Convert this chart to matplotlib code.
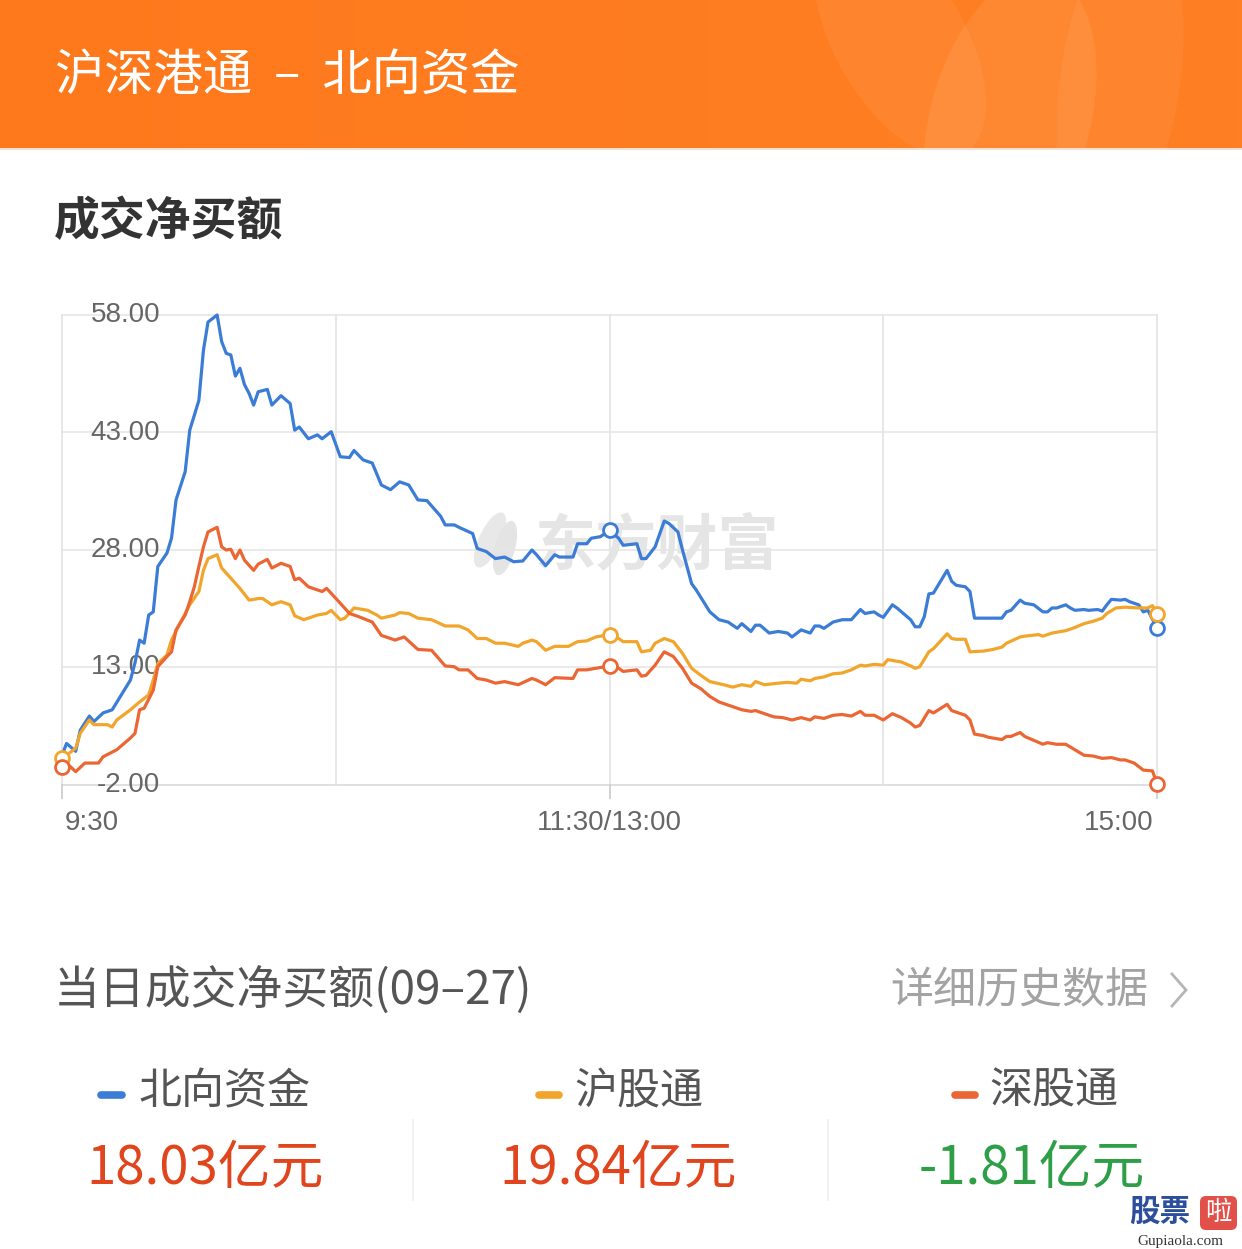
import matplotlib
matplotlib.use("Agg")
import matplotlib.pyplot as plt
import matplotlib.transforms as mtransforms
from matplotlib.patches import Rectangle, Ellipse, FancyBboxPatch
import numpy as np

CJK = ['Noto Sans CJK SC', 'DejaVu Sans']
NUM = ['Liberation Sans', 'DejaVu Sans']
plt.rcParams['font.family'] = CJK

# ---------------- data (minutes after 9:30, lunch break removed) ----------------
north_t = [0, 1, 3, 4, 6, 7, 9, 11, 13, 15, 16, 17, 18, 19, 20, 21, 23, 24, 25, 27, 28, 30, 31, 32, 34,
           35, 36, 37, 38, 39, 40, 41, 42, 43, 45, 46, 48, 50, 51, 52, 54, 56, 57, 59, 61, 63, 64, 66, 68,
           70, 72, 74, 76, 78, 80, 83, 84, 86, 87, 90, 91, 93, 95, 97, 99, 101, 103, 104, 106, 108, 109,
           112, 113, 115, 116, 118, 120, 122, 123, 126, 127, 128, 130, 132, 133, 135, 136, 138, 139, 142,
           144, 146, 148, 149, 151, 152, 153, 155, 157, 159, 160, 162, 164, 165, 166, 167, 169, 171, 173,
           175, 176, 178, 179, 180, 182, 183, 184, 186, 187, 188, 189, 190, 191, 194, 195, 196, 198, 199,
           200, 201, 203, 206, 207, 208, 210, 211, 213, 215, 216, 217, 218, 220, 221, 222, 224, 225, 227,
           228, 229, 230, 232, 233, 234, 236, 237, 238, 240]
north_v = [1.8, 3.3, 2.3, 5.0, 6.8, 6.1, 7.2, 7.6, 9.5, 11.4, 13.6, 16.5, 16.1, 19.7, 20.1, 25.9, 27.6,
           29.5, 34.4, 38.0, 43.3, 47.1, 53.5, 57.1, 58.0, 54.6, 53.1, 52.9, 50.2, 51.2, 49.1, 48.0, 46.5,
           48.2, 48.5, 46.5, 47.7, 46.7, 43.3, 43.7, 42.2, 42.7, 42.2, 43.1, 39.9, 39.8, 40.7, 39.5, 39.1,
           36.3, 35.7, 36.7, 36.3, 34.4, 34.3, 32.3, 31.2, 31.2, 30.9, 30.1, 28.2, 27.8, 26.9, 27.1, 26.5,
           26.6, 28.0, 27.4, 26.0, 27.4, 27.1, 27.1, 28.8, 28.8, 29.5, 29.7, 30.5, 29.5, 28.6, 28.8, 26.9,
           26.9, 28.4, 31.7, 31.4, 30.3, 28.0, 23.7, 22.9, 20.1, 19.1, 18.8, 18.0, 18.6, 17.6, 18.4, 18.4,
           17.4, 17.6, 17.4, 16.9, 17.8, 17.4, 18.3, 18.3, 18.0, 18.8, 19.1, 19.1, 20.4, 19.9, 20.1, 19.7,
           19.4, 21.0, 20.6, 20.1, 19.1, 18.2, 18.2, 19.5, 22.4, 22.5, 25.4, 24.0, 23.5, 23.3, 22.7, 19.3,
           19.3, 19.3, 19.3, 20.1, 20.3, 21.6, 21.2, 21.0, 20.1, 20.1, 20.6, 20.6, 21.0, 20.6, 20.3, 20.4,
           20.3, 20.4, 20.2, 21.0, 21.7, 21.6, 21.7, 21.4, 21.0, 20.1, 20.3, 18.03]

sh_t = [0, 1, 3, 4, 6, 7, 10, 11, 12, 15, 17, 19, 20, 21, 23, 24, 26, 28, 30, 31, 32, 34, 35, 37, 39,
        41, 43, 44, 46, 48, 50, 51, 53, 56, 58, 59, 61, 62, 64, 65, 67, 69, 70, 73, 74, 76, 78, 81, 84,
        87, 89, 91, 93, 95, 97, 100, 101, 103, 104, 106, 108, 111, 113, 115, 117, 120, 122, 123, 126,
        127, 129, 130, 132, 134, 136, 138, 140, 142, 145, 147, 149, 151, 152, 154, 157, 159, 161, 162,
        164, 165, 167, 169, 171, 173, 175, 176, 178, 180, 181, 184, 186, 187, 188, 190, 191, 194, 195,
        196, 198, 199, 202, 204, 206, 207, 210, 211, 214, 215, 217, 220, 222, 224, 226, 228, 229, 231,
        233, 236, 238, 239, 240]
sh_v = [1.4, 1.8, 2.7, 4.6, 6.3, 5.7, 5.7, 5.4, 6.3, 7.6, 8.6, 9.5, 11.4, 13.5, 14.6, 16.5, 18.8, 21.0,
        22.7, 25.4, 26.9, 27.4, 25.7, 24.4, 23.1, 21.6, 21.8, 21.8, 21.0, 21.4, 21.0, 19.6, 19.1, 19.7,
        19.9, 20.3, 19.1, 19.3, 20.6, 20.5, 20.3, 19.7, 19.3, 19.7, 20.0, 19.9, 19.3, 19.1, 18.3, 18.3,
        17.8, 16.7, 16.7, 16.1, 16.1, 15.7, 16.1, 16.5, 16.3, 15.2, 15.7, 15.7, 16.3, 16.4, 16.9, 17.2,
        16.7, 16.3, 16.3, 15.0, 15.2, 16.1, 16.7, 16.3, 14.8, 12.9, 12.0, 11.2, 10.8, 10.5, 10.8, 10.6,
        11.2, 10.8, 11.0, 11.1, 11.0, 11.5, 11.3, 11.6, 11.8, 12.2, 12.3, 12.7, 13.3, 13.2, 13.4, 13.3,
        14.0, 13.7, 13.2, 12.9, 13.1, 15.0, 15.4, 17.3, 16.7, 16.6, 16.6, 15.0, 15.1, 15.3, 15.6, 16.1,
        16.9, 17.0, 17.2, 17.0, 17.4, 17.7, 18.1, 18.6, 18.9, 19.3, 19.9, 20.6, 20.7, 20.6, 20.6, 20.9,
        19.84]

sz_t = [0, 1, 3, 5, 8, 9, 12, 15, 16, 17, 18, 20, 21, 23, 24, 25, 27, 28, 29, 30, 31, 32, 34, 35, 36,
        37, 38, 39, 40, 42, 43, 45, 46, 48, 50, 51, 52, 54, 57, 58, 61, 63, 65, 68, 70, 73, 75, 78, 81,
        84, 86, 87, 89, 91, 93, 95, 97, 100, 103, 104, 106, 108, 112, 113, 115, 117, 120, 122, 123, 126,
        127, 128, 130, 132, 134, 136, 138, 140, 142, 144, 146, 149, 151, 152, 154, 156, 158, 160, 162,
        164, 165, 167, 169, 171, 173, 175, 176, 178, 180, 182, 184, 186, 187, 188, 190, 191, 194, 195,
        198, 199, 200, 202, 203, 206, 207, 208, 210, 211, 213, 215, 216, 218, 220, 222, 224, 226, 228,
        230, 232, 233, 235, 237, 239, 240]
sz_v = [0.3, 0.8, -0.3, 0.8, 0.8, 1.6, 2.5, 4.0, 4.6, 7.6, 7.8, 10.1, 13.1, 14.4, 15.0, 17.8, 19.7,
        21.4, 23.3, 25.9, 28.4, 30.3, 30.9, 28.4, 28.0, 28.1, 26.9, 28.0, 26.7, 25.4, 26.2, 26.8, 25.7,
        26.3, 25.9, 24.2, 24.4, 23.3, 22.7, 23.1, 21.2, 19.9, 19.5, 18.8, 17.1, 16.5, 16.9, 15.3, 15.2,
        13.2, 13.1, 12.7, 12.7, 11.6, 11.4, 11.0, 11.2, 10.8, 11.6, 11.4, 10.8, 11.7, 11.6, 12.7, 12.7,
        12.9, 13.2, 12.9, 12.5, 12.7, 11.9, 12.0, 13.3, 15.0, 14.4, 12.9, 11.0, 10.3, 9.3, 8.6, 8.2, 7.6,
        7.4, 7.5, 7.1, 6.7, 6.6, 6.3, 6.6, 6.3, 6.7, 6.5, 6.9, 7.0, 6.8, 7.4, 6.9, 6.9, 6.3, 7.1, 6.6,
        5.9, 5.4, 5.6, 7.5, 7.2, 8.3, 7.5, 6.9, 6.3, 4.5, 4.3, 4.1, 3.8, 4.2, 4.2, 4.7, 4.2, 3.7, 3.2,
        3.4, 3.2, 3.2, 2.5, 1.8, 1.7, 1.4, 1.5, 1.2, 1.2, 0.8, -0.1, -0.2, -1.81]

y_ticks = [-2, 13, 28, 43, 58]
x_grid = [0, 60, 120, 180, 240]
x_tick_pos = [0, 120, 240]
x_tick_labels = ['9:30', '11:30/13:00', '15:00']

series_names = ['北向资金', '沪股通', '深股通']
series_totals = [18.03, 19.84, -1.81]

C_BLUE = '#3B7DD6'
C_YEL = '#F2A52B'
C_ORG = '#EC6634'
colors = [C_BLUE, C_YEL, C_ORG]

W, H = 1242, 1249
fig = plt.figure(figsize=(W / 100, H / 100), dpi=100)
fig.patch.set_facecolor('white')

# ---------------- background / page axes in pixel coordinates ----------------
bg = fig.add_axes([0, 0, 1, 1], zorder=0)
bg.set_xlim(0, W)
bg.set_ylim(H, 0)
bg.axis('off')

# header gradient
grad = np.linspace(0, 1, 256)[None, :]
c0 = np.array([254, 121, 28]) / 255
c1 = np.array([255, 128, 36]) / 255
img = c0[None, None, :] * (1 - grad[..., None]) + c1[None, None, :] * grad[..., None]
bg.imshow(img, extent=[0, W, 148, 0], aspect='auto', zorder=0)
# subtle decorative shapes on the right of header
for (cx, cy, w_, h_, ang, a) in [(900, 40, 130, 260, -30, 0.06), (1010, 120, 160, 300, 15, 0.07),
                                 (1120, 80, 120, 320, 8, 0.05)]:
    bg.add_patch(Ellipse((cx, cy), w_, h_, angle=ang, facecolor='white', alpha=a,
                         edgecolor='none', zorder=1))
bg.add_patch(Rectangle((0, 148), W, 4, facecolor='white', edgecolor='none', zorder=2))
bg.plot([0, W], [148.5, 148.5], color='#F2DCC6', lw=1.2, zorder=3)

bg.text(55, 76, '沪深港通  –  北向资金', color='white', fontsize=35.5, va='center', ha='left',
        family=CJK, zorder=4)
bg.text(54, 222, '成交净买额', color='#333333', fontsize=33, fontweight='bold', va='center',
        ha='left', family=CJK)

# watermark
bg.text(657, 546, '东方财富', color='#E3E3E3', fontsize=44, fontweight='bold', va='center',
        ha='center', family=CJK, zorder=1, alpha=0.9)
bg.add_patch(Ellipse((490, 540), 22, 60, angle=25, facecolor='#E8E8E8', edgecolor='none', zorder=1))
bg.add_patch(Ellipse((505, 548), 20, 56, angle=15, facecolor='#E4E4E4', edgecolor='none', zorder=1))

# bottom section
bg.text(54, 991, '当日成交净买额(09–27)', color='#555555', fontsize=33, va='center', ha='left',
        family=CJK)
bg.text(1148, 991, '详细历史数据', color='#A3A3A3', fontsize=31, va='center', ha='right', family=CJK)
bg.plot([1172, 1186, 1172], [974, 990, 1006], color='#B5B5B5', lw=2.0, solid_joinstyle='miter')

dash_x = [(101, 122), (539, 559), (955, 975)]
label_x = [139, 574, 989]
value_cx = [205, 618, 1032]
value_colors = ['#E0451D', '#E0451D', '#2E9F47']
for i in range(3):
    bg.plot(dash_x[i], [1095, 1095], color=colors[i], lw=5.5, solid_capstyle='round')
    bg.text(label_x[i], 1092, series_names[i], color='#555555', fontsize=31, va='center',
            ha='left', family=CJK)
    bg.text(value_cx[i], 1168, f'{series_totals[i]:.2f}亿元', color=value_colors[i], fontsize=38,
            fontweight='medium', va='center', ha='center', family=CJK)
for sx in [413, 828]:
    bg.plot([sx, sx], [1120, 1200], color='#EFEFEF', lw=1.2)

# bottom-right logo
bg.text(1160, 1212, '股票', color='#2D4E9C', fontsize=22, fontweight='bold', va='center',
        ha='center', family=CJK)
bg.add_patch(FancyBboxPatch((1200, 1196), 37, 34, boxstyle='round,pad=0,rounding_size=6',
                            facecolor='#E2504A', edgecolor='none'))
bg.text(1218.5, 1213, '啦', color='white', fontsize=19, va='center', ha='center', family=CJK)
bg.text(1180, 1242, 'Gupiaola.com', color='#333333', fontsize=11, va='center', ha='center',
        family=['Liberation Serif', 'DejaVu Serif'])

# ---------------- chart axes ----------------
L, R, T, B = 62, 1157, 315, 785
ax = fig.add_axes([L / W, 1 - B / H, (R - L) / W, (B - T) / H], zorder=2)
ax.patch.set_alpha(0)
ax.set_xlim(0, 240)
ax.set_ylim(-2, 58)
for s in ax.spines.values():
    s.set_visible(False)
ax.set_xticks([])
ax.set_yticks([])

for yv in y_ticks:
    ax.axhline(yv, color='#D9D9D9' if yv == y_ticks[0] else '#E6E6E6', lw=1.2, zorder=1,
               clip_on=False)
for xv in x_grid:
    ax.axvline(xv, color='#E3E3E3', lw=1.2, zorder=1, clip_on=False)

trans_xa = mtransforms.blended_transform_factory(ax.transData, ax.transAxes)
trans_ay = mtransforms.blended_transform_factory(ax.transAxes, ax.transData)
for xv in x_tick_pos:
    ax.plot([xv, xv], [0, -0.028], transform=trans_xa, color='#D2D2D2', lw=1.4, clip_on=False,
            zorder=1)

has = ['left', 'center', 'right']
offs = [0.5, 0, -0.8]
for xv, lab, ha, o in zip(x_tick_pos, x_tick_labels, has, offs):
    ax.text(xv + o, -0.081, lab, transform=trans_xa, ha=ha, va='center', fontsize=20,
            color='#666666', family=NUM)

for yv in y_ticks:
    ax.text(0.0895, yv, f'{yv:.2f}', transform=trans_ay, ha='right', va='center', fontsize=20,
            color='#666666', family=NUM, zorder=2)

series = [(north_t, north_v), (sh_t, sh_v), (sz_t, sz_v)]
for i in [2, 1, 0]:
    t, v = series[i]
    ax.plot(t, v, color=colors[i], lw=2.3, zorder=3 + i * 0.1,
            solid_joinstyle='round', clip_on=False)

# hollow markers: start (沪股通, 深股通), noon and close for all
marker_idx = {0: [120, 240], 1: [0, 120, 240], 2: [0, 120, 240]}
for i, mins in marker_idx.items():
    t, v = series[i]
    for m in mins:
        k = t.index(m)
        ax.plot([t[k]], [v[k]], marker='o', ms=10, mfc='white', mec=colors[i], mew=2.0,
                zorder=5, clip_on=False, linestyle='none')

fig.savefig('out.png', dpi=100, facecolor='white')
